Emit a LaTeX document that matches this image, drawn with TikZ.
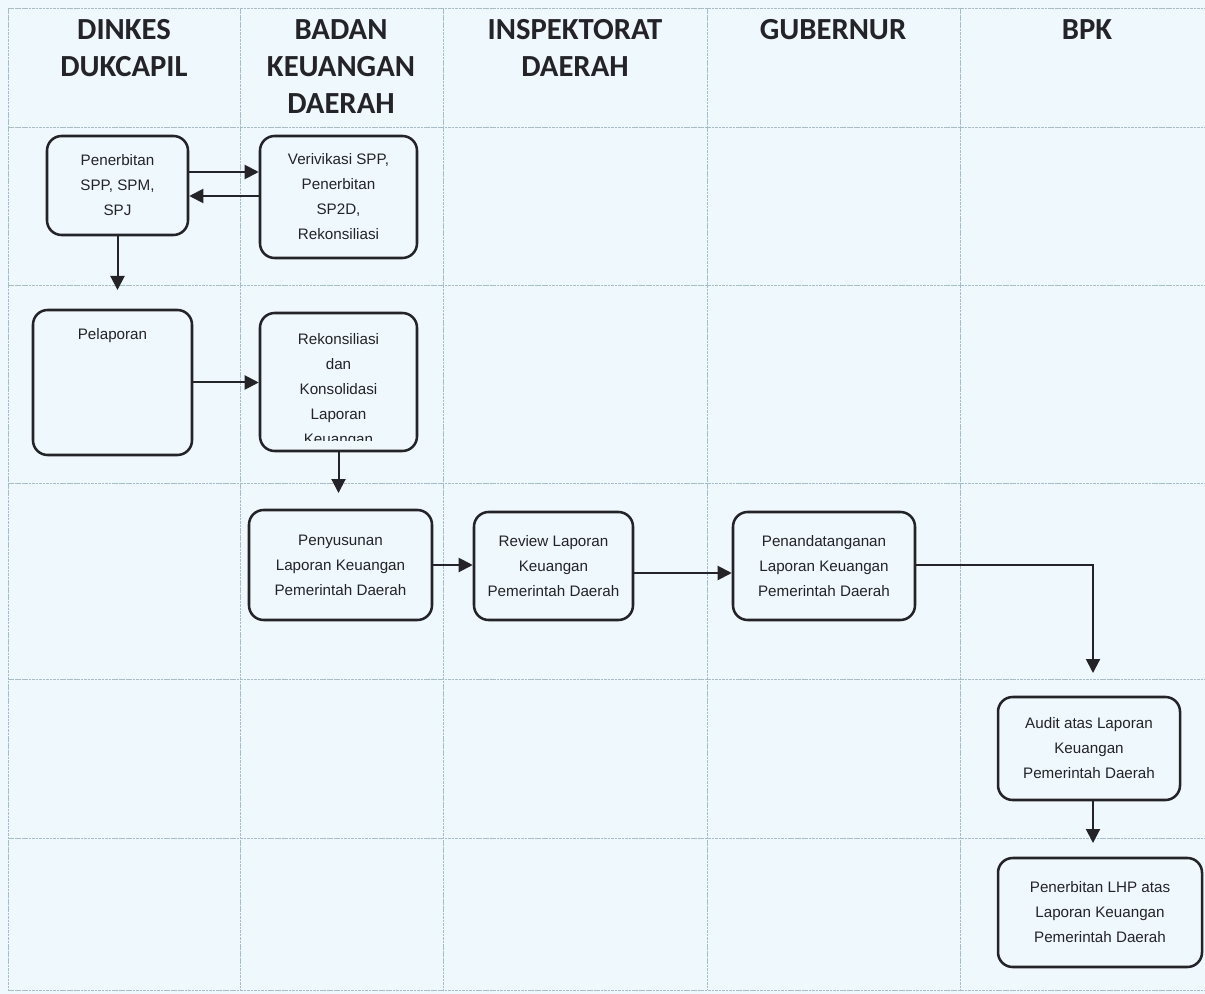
\documentclass[tikz,border=0pt]{standalone}
\usepackage{fontspec}
\setmainfont{Liberation Sans}
\newfontfamily\headfont{Carlito}
\usetikzlibrary{arrows.meta}

\definecolor{paper}{RGB}{239,248,252}
\definecolor{gridblue}{RGB}{165,190,206}
\definecolor{ink}{RGB}{35,35,40}

\tikzset{every picture/.style={line width=0.75pt}}
\tikzset{
  laneline/.style={draw=gridblue, line width=0.6pt, dash pattern=on 2pt off 0.6pt},
  lanehead/.style={font=\headfont\bfseries\fontsize{23}{27.75}\selectfont, text=ink, align=center, anchor=north, inner sep=0pt},
  procbox/.style={draw=ink, line width=1.9pt, rounded corners=11pt, align=center, inner sep=0pt,
    font=\fontsize{11.4}{18.75}\selectfont, text=ink},
  flow/.style={draw=ink, line width=1.5pt, -{Triangle[length=10.5pt,width=10.5pt]}}
}

\begin{document}
\begin{tikzpicture}[x=0.75pt,y=0.75pt,yscale=-1,xscale=1]
%set diagram size 1205 x 994
\useasboundingbox (0,0) rectangle (1205,994);
\fill [paper] (0,0) rectangle (1205,994);

%Lane Lines
\foreach \lx in {8,240,443,707,960}
  \draw [laneline] (\lx,8) -- (\lx,990);
\foreach \ly in {8,127,285,483,679,838,990}
  \draw [laneline] (8,\ly) -- (1205,\ly);

% Lane Heads
\node [lanehead] (hdinkes) at (124,19) {DINKES\\DUKCAPIL};
\node [lanehead] (hbadan) at (341,19) {BADAN\\KEUANGAN\\DAERAH};
\node [lanehead] (hinsp) at (575,19) {INSPEKTORAT\\DAERAH};
\node [lanehead] (hgub) at (833,19) {GUBERNUR};
\node [lanehead] (hbpk) at (1087,19) {BPK};

% Process Nodes
\node [procbox, minimum width=105.75pt, minimum height=74.25pt] (penerbitan) at (117.5,185.5) {Penerbitan\\SPP, SPM,\\SPJ};
\node [procbox, minimum width=117.75pt, minimum height=91.5pt] (verifikasi) at (338.5,197) {Verivikasi SPP,\\Penerbitan\\SP2D,\\Rekonsiliasi};
\node [procbox, minimum width=119.25pt, minimum height=108.75pt] (pelaporan) at (112.5,382.5) {};
\node [procbox, anchor=north, draw=none, yshift=-14pt] (pelaporantxt) at (pelaporan.north) {Pelaporan};
\node [procbox, minimum width=117.75pt, minimum height=103.5pt] (rekon) at (338.5,382) {};
\begin{scope}
  \clip (rekon.north west) rectangle (rekon.east |- 0,440);
  \node [procbox, anchor=north, draw=none, yshift=-15pt] (rekontxt) at (rekon.north) {Rekonsiliasi\\dan\\Konsolidasi\\Laporan\\Keuangan};
\end{scope}
\node [procbox, minimum width=137.25pt, minimum height=82.5pt] (penyusunan) at (340.5,565) {Penyusunan\\Laporan Keuangan\\Pemerintah Daerah};
\node [procbox, minimum width=119.25pt, minimum height=81pt] (review) at (553.5,566) {Review Laporan\\Keuangan\\Pemerintah Daerah};
\node [procbox, minimum width=136.5pt, minimum height=81pt] (penandatanganan) at (824,566) {Penandatanganan\\Laporan Keuangan\\Pemerintah Daerah};
\node [procbox, minimum width=136.5pt, minimum height=77.25pt] (audit) at (1089,748.5) {Audit atas Laporan\\Keuangan\\Pemerintah Daerah};
\node [procbox, minimum width=153pt, minimum height=81.75pt] (lhp) at (1100,912.5) {Penerbitan LHP atas\\Laporan Keuangan\\Pemerintah Daerah};

% Connectors
\coordinate (bend) at (1093,673);
\draw [flow] (penerbitan.east |- 0,172) -- (verifikasi.west |- 0,172);
\draw [flow] (verifikasi.west |- 0,196) -- (penerbitan.east |- 0,196);
\draw [flow] (penerbitan.south) -- (penerbitan.south |- 0,290);
\draw [flow] (pelaporan.east) -- (rekon.west |- pelaporan.east);
\draw [flow] (rekon.south) -- (rekon.south |- 0,493);
\draw [flow] (penyusunan.east) -- (review.west |- penyusunan.east);
\draw [flow] (review.east |- 0,573) -- (penandatanganan.west |- 0,573);
\draw [flow] (penandatanganan.east |- 0,565) -| (bend);
\draw [flow] (audit.south -| bend) -- (bend |- 0,843);

\end{tikzpicture}
\end{document}
